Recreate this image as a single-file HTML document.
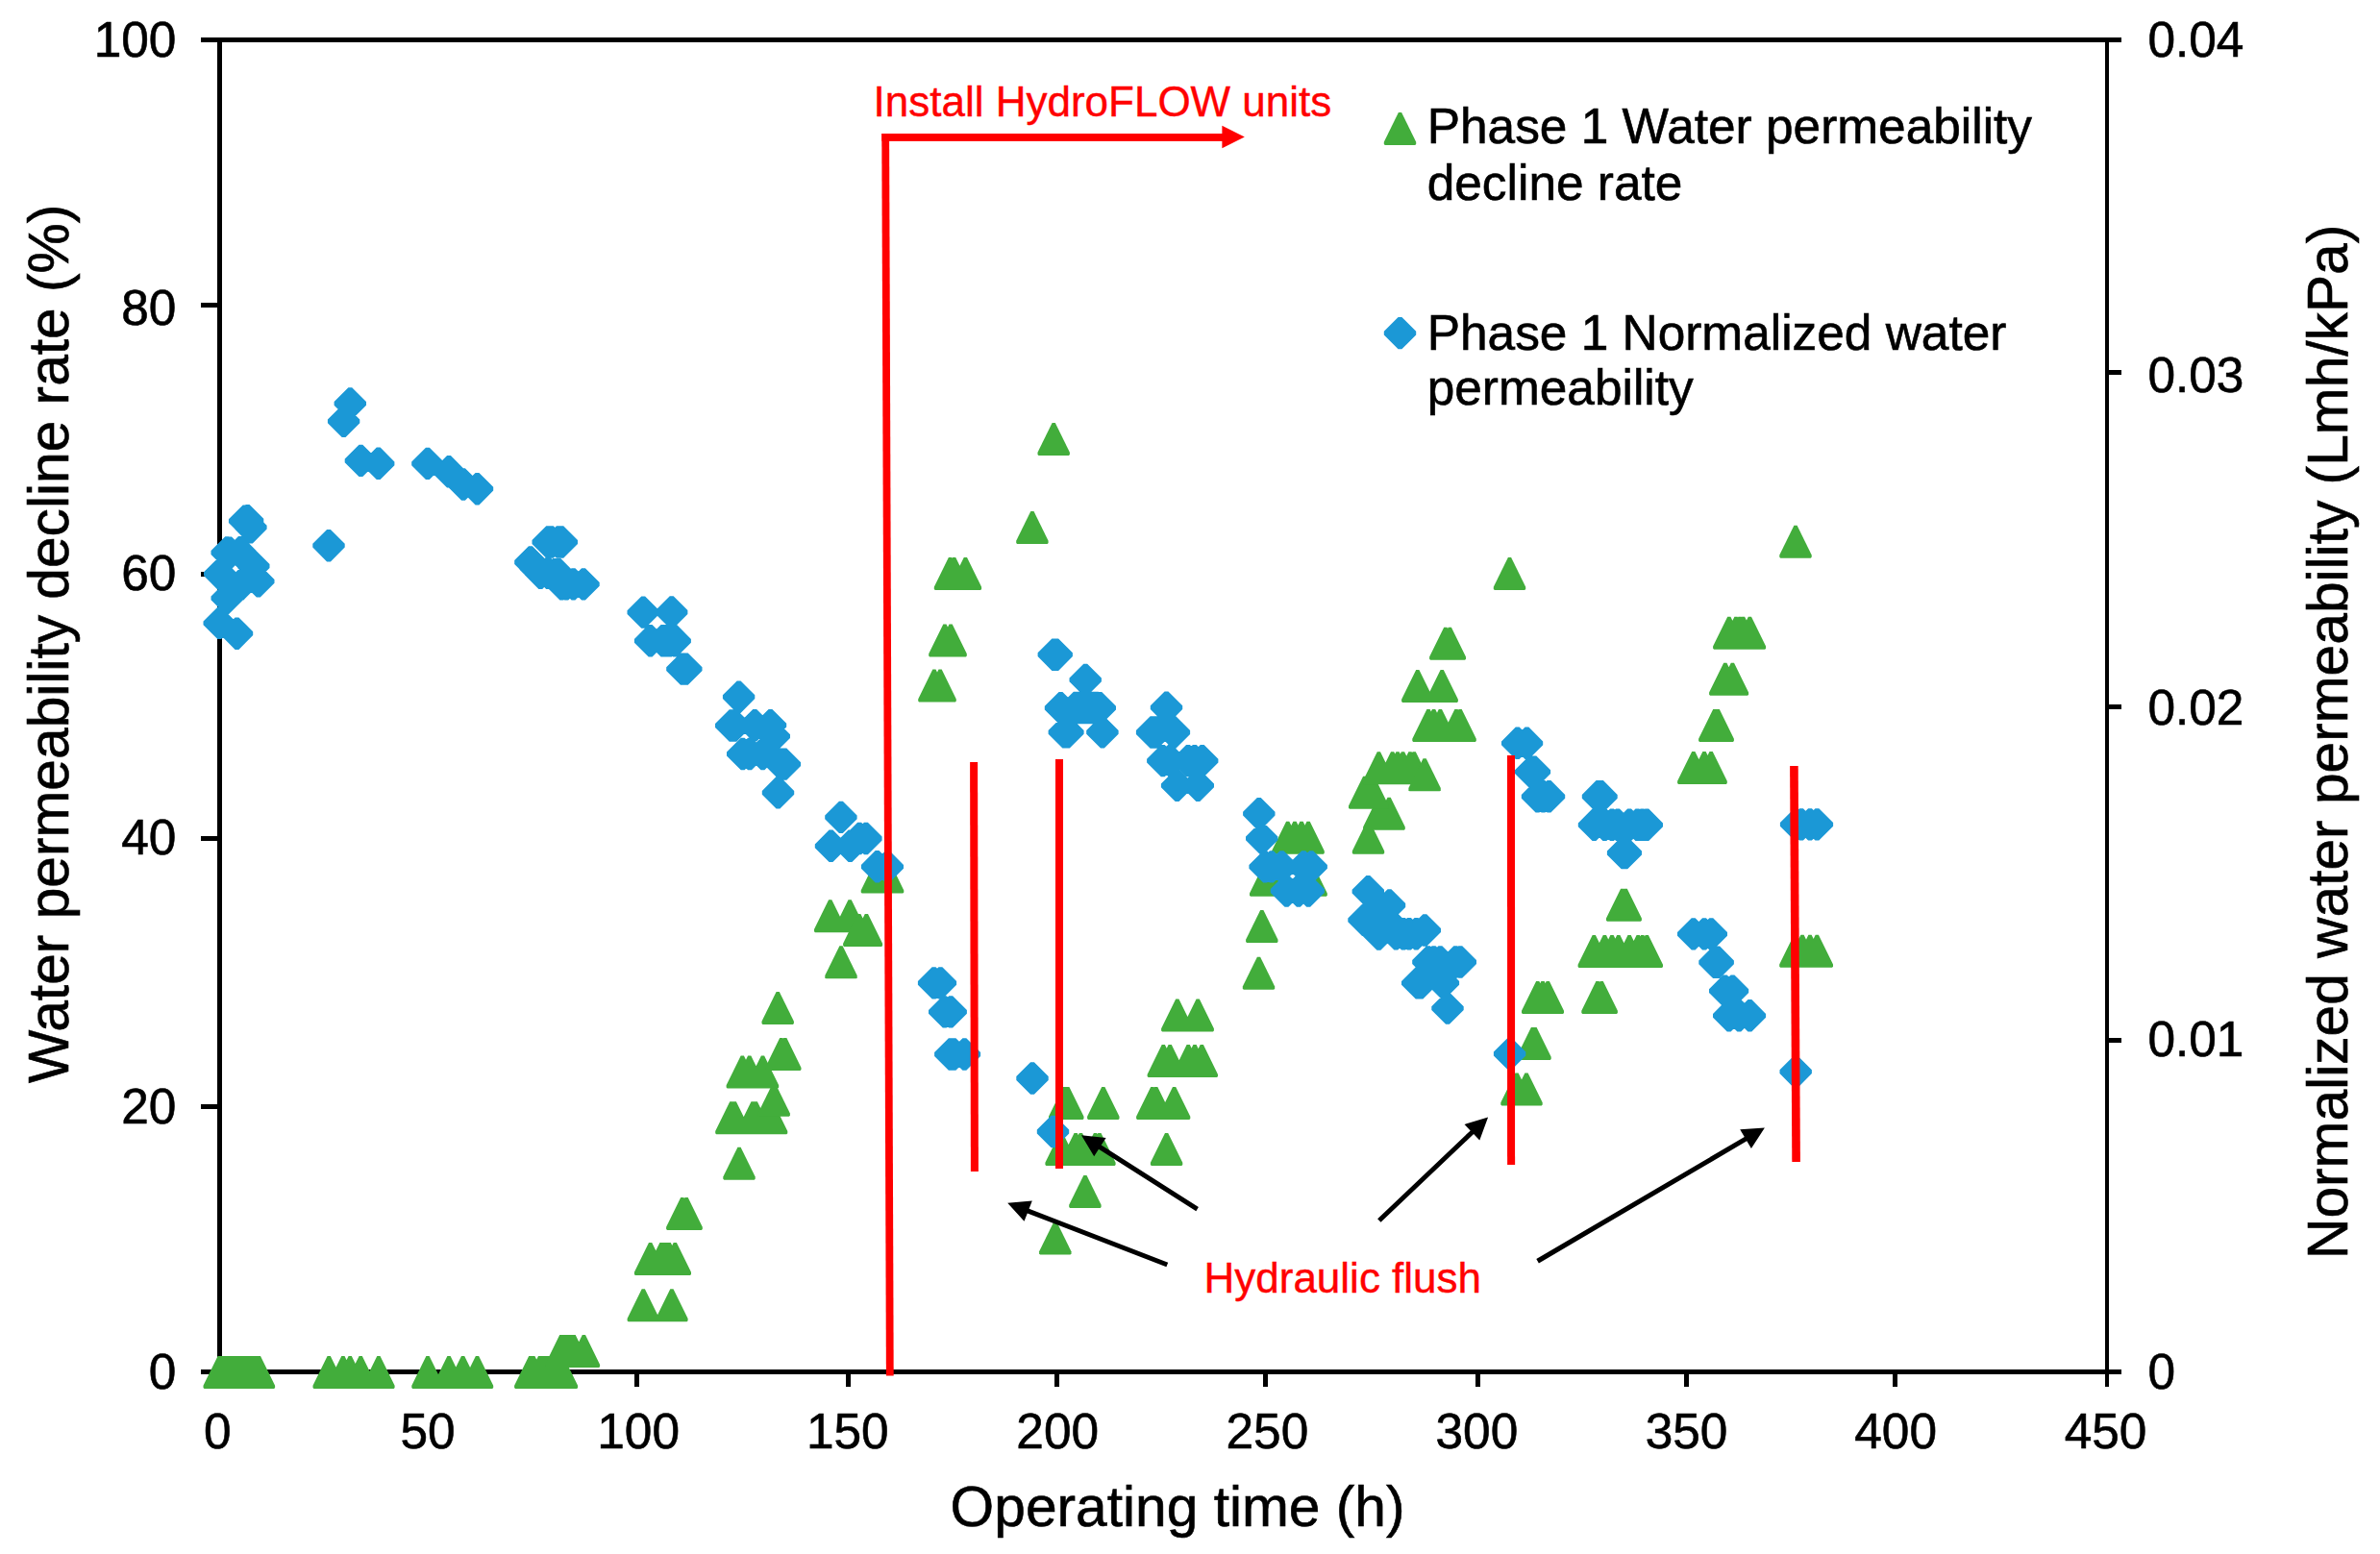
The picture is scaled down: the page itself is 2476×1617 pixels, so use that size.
<!DOCTYPE html>
<html><head><meta charset="utf-8"><title>Water permeability chart</title>
<style>html,body{margin:0;padding:0;background:#fff}svg{display:block}text{font-family:"Liberation Sans",Arial,sans-serif;}</style>
</head><body>
<svg width="2476" height="1617" viewBox="0 0 2476 1617">
<rect width="2476" height="1617" fill="#fff"/>
<g fill="#000" shape-rendering="crispEdges">
<rect x="209" y="38.9" width="1998" height="5.2"/>
<rect x="209" y="1424.8" width="1998" height="5.5"/>
<rect x="226.0" y="41.5" width="5" height="1386.0"/>
<rect x="2189.9" y="41.5" width="4.4" height="1401.5"/>
<rect x="209" y="315.1" width="20" height="5"/>
<rect x="209" y="594.5" width="20" height="5"/>
<rect x="209" y="869.5" width="20" height="5"/>
<rect x="209" y="1148.5" width="20" height="5"/>
<rect x="2192.1" y="385.1" width="15" height="5"/>
<rect x="2192.1" y="733.4" width="15" height="5"/>
<rect x="2192.1" y="1079.5" width="15" height="5"/>
<rect x="442.5" y="1427.5" width="5" height="15.5"/>
<rect x="659.5" y="1427.5" width="5" height="15.5"/>
<rect x="879.8" y="1427.5" width="5" height="15.5"/>
<rect x="1096.9" y="1427.5" width="5" height="15.5"/>
<rect x="1313.7" y="1427.5" width="5" height="15.5"/>
<rect x="1534.8" y="1427.5" width="5" height="15.5"/>
<rect x="1751.8" y="1427.5" width="5" height="15.5"/>
<rect x="1968.7" y="1427.5" width="5" height="15.5"/>
</g>
<g fill="#42ad3b">
<path d="M226.6 1411.0 L229.8 1411.0 L244.9 1441.8 L244.9 1444.0 L243.9 1445.0 L212.5 1445.0 L211.5 1444.0 L211.5 1441.8ZM229.6 1411.0 L232.8 1411.0 L247.9 1441.8 L247.9 1444.0 L246.9 1445.0 L215.5 1445.0 L214.5 1444.0 L214.5 1441.8ZM232.6 1411.0 L235.8 1411.0 L250.9 1441.8 L250.9 1444.0 L249.9 1445.0 L218.5 1445.0 L217.5 1444.0 L217.5 1441.8ZM235.6 1411.0 L238.8 1411.0 L253.9 1441.8 L253.9 1444.0 L252.9 1445.0 L221.5 1445.0 L220.5 1444.0 L220.5 1441.8ZM238.6 1411.0 L241.8 1411.0 L256.9 1441.8 L256.9 1444.0 L255.9 1445.0 L224.5 1445.0 L223.5 1444.0 L223.5 1441.8ZM241.6 1411.0 L244.8 1411.0 L259.9 1441.8 L259.9 1444.0 L258.9 1445.0 L227.5 1445.0 L226.5 1444.0 L226.5 1441.8ZM244.6 1411.0 L247.8 1411.0 L262.9 1441.8 L262.9 1444.0 L261.9 1445.0 L230.5 1445.0 L229.5 1444.0 L229.5 1441.8ZM247.6 1411.0 L250.8 1411.0 L265.9 1441.8 L265.9 1444.0 L264.9 1445.0 L233.5 1445.0 L232.5 1444.0 L232.5 1441.8ZM250.6 1411.0 L253.8 1411.0 L268.9 1441.8 L268.9 1444.0 L267.9 1445.0 L236.5 1445.0 L235.5 1444.0 L235.5 1441.8ZM253.6 1411.0 L256.8 1411.0 L271.9 1441.8 L271.9 1444.0 L270.9 1445.0 L239.5 1445.0 L238.5 1444.0 L238.5 1441.8ZM256.6 1411.0 L259.8 1411.0 L274.9 1441.8 L274.9 1444.0 L273.9 1445.0 L242.5 1445.0 L241.5 1444.0 L241.5 1441.8ZM259.6 1411.0 L262.8 1411.0 L277.9 1441.8 L277.9 1444.0 L276.9 1445.0 L245.5 1445.0 L244.5 1444.0 L244.5 1441.8ZM262.6 1411.0 L265.8 1411.0 L280.9 1441.8 L280.9 1444.0 L279.9 1445.0 L248.5 1445.0 L247.5 1444.0 L247.5 1441.8ZM265.6 1411.0 L268.8 1411.0 L283.9 1441.8 L283.9 1444.0 L282.9 1445.0 L251.5 1445.0 L250.5 1444.0 L250.5 1441.8ZM267.8 1411.0 L271.0 1411.0 L286.1 1441.8 L286.1 1444.0 L285.1 1445.0 L253.7 1445.0 L252.7 1444.0 L252.7 1441.8ZM340.6 1411.0 L343.8 1411.0 L358.9 1441.8 L358.9 1444.0 L357.9 1445.0 L326.5 1445.0 L325.5 1444.0 L325.5 1441.8ZM355.3 1411.0 L358.5 1411.0 L373.6 1441.8 L373.6 1444.0 L372.6 1445.0 L341.2 1445.0 L340.2 1444.0 L340.2 1441.8ZM362.6 1411.0 L365.8 1411.0 L380.9 1441.8 L380.9 1444.0 L379.9 1445.0 L348.5 1445.0 L347.5 1444.0 L347.5 1441.8ZM373.6 1411.0 L376.8 1411.0 L391.9 1441.8 L391.9 1444.0 L390.9 1445.0 L359.5 1445.0 L358.5 1444.0 L358.5 1441.8ZM392.3 1411.0 L395.5 1411.0 L410.6 1441.8 L410.6 1444.0 L409.6 1445.0 L378.2 1445.0 L377.2 1444.0 L377.2 1441.8ZM443.4 1411.0 L446.6 1411.0 L461.7 1441.8 L461.7 1444.0 L460.7 1445.0 L429.3 1445.0 L428.3 1444.0 L428.3 1441.8ZM465.4 1411.0 L468.6 1411.0 L483.7 1441.8 L483.7 1444.0 L482.7 1445.0 L451.3 1445.0 L450.3 1444.0 L450.3 1441.8ZM480.0 1411.0 L483.2 1411.0 L498.3 1441.8 L498.3 1444.0 L497.3 1445.0 L465.9 1445.0 L464.9 1444.0 L464.9 1441.8ZM494.9 1411.0 L498.1 1411.0 L513.2 1441.8 L513.2 1444.0 L512.2 1445.0 L480.8 1445.0 L479.8 1444.0 L479.8 1441.8ZM550.2 1411.0 L553.4 1411.0 L568.5 1441.8 L568.5 1444.0 L567.5 1445.0 L536.1 1445.0 L535.1 1444.0 L535.1 1441.8ZM553.2 1411.0 L556.4 1411.0 L571.5 1441.8 L571.5 1444.0 L570.5 1445.0 L539.1 1445.0 L538.1 1444.0 L538.1 1441.8ZM560.0 1411.0 L563.2 1411.0 L578.3 1441.8 L578.3 1444.0 L577.3 1445.0 L545.9 1445.0 L544.9 1444.0 L544.9 1441.8ZM563.0 1411.0 L566.2 1411.0 L581.3 1441.8 L581.3 1444.0 L580.3 1445.0 L548.9 1445.0 L547.9 1444.0 L547.9 1441.8ZM566.0 1411.0 L569.2 1411.0 L584.3 1441.8 L584.3 1444.0 L583.3 1445.0 L551.9 1445.0 L550.9 1444.0 L550.9 1441.8ZM569.0 1411.0 L572.2 1411.0 L587.3 1441.8 L587.3 1444.0 L586.3 1445.0 L554.9 1445.0 L553.9 1444.0 L553.9 1441.8ZM572.0 1411.0 L575.2 1411.0 L590.3 1441.8 L590.3 1444.0 L589.3 1445.0 L557.9 1445.0 L556.9 1444.0 L556.9 1441.8ZM575.6 1411.0 L578.8 1411.0 L593.9 1441.8 L593.9 1444.0 L592.9 1445.0 L561.5 1445.0 L560.5 1444.0 L560.5 1441.8ZM579.8 1411.0 L583.0 1411.0 L598.1 1441.8 L598.1 1444.0 L597.1 1445.0 L565.7 1445.0 L564.7 1444.0 L564.7 1441.8ZM582.8 1411.0 L586.0 1411.0 L601.1 1441.8 L601.1 1444.0 L600.1 1445.0 L568.7 1445.0 L567.7 1444.0 L567.7 1441.8Z"/>
<path d="M582.2 1389.1 L585.4 1389.1 L600.5 1419.9 L600.5 1422.1 L599.5 1423.1 L568.1 1423.1 L567.1 1422.1 L567.1 1419.9ZM585.2 1389.1 L588.4 1389.1 L603.5 1419.9 L603.5 1422.1 L602.5 1423.1 L571.1 1423.1 L570.1 1422.1 L570.1 1419.9ZM588.2 1389.1 L591.4 1389.1 L606.5 1419.9 L606.5 1422.1 L605.5 1423.1 L574.1 1423.1 L573.1 1422.1 L573.1 1419.9ZM591.2 1389.1 L594.4 1389.1 L609.5 1419.9 L609.5 1422.1 L608.5 1423.1 L577.1 1423.1 L576.1 1422.1 L576.1 1419.9ZM594.0 1389.1 L597.2 1389.1 L612.3 1419.9 L612.3 1422.1 L611.3 1423.1 L579.9 1423.1 L578.9 1422.1 L578.9 1419.9ZM595.5 1389.1 L598.7 1389.1 L613.8 1419.9 L613.8 1422.1 L612.8 1423.1 L581.4 1423.1 L580.4 1422.1 L580.4 1419.9ZM605.8 1389.1 L609.0 1389.1 L624.1 1419.9 L624.1 1422.1 L623.1 1423.1 L591.7 1423.1 L590.7 1422.1 L590.7 1419.9Z"/>
<path d="M667.7 1341.3 L670.9 1341.3 L686.0 1372.1 L686.0 1374.3 L685.0 1375.3 L653.6 1375.3 L652.6 1374.3 L652.6 1372.1ZM697.3 1341.3 L700.5 1341.3 L715.6 1372.1 L715.6 1374.3 L714.6 1375.3 L683.2 1375.3 L682.2 1374.3 L682.2 1372.1Z"/>
<path d="M675.0 1293.0 L678.2 1293.0 L693.3 1323.8 L693.3 1326.0 L692.3 1327.0 L660.9 1327.0 L659.9 1326.0 L659.9 1323.8ZM686.4 1293.0 L689.6 1293.0 L704.7 1323.8 L704.7 1326.0 L703.7 1327.0 L672.3 1327.0 L671.3 1326.0 L671.3 1323.8ZM689.4 1293.0 L692.6 1293.0 L707.7 1323.8 L707.7 1326.0 L706.7 1327.0 L675.3 1327.0 L674.3 1326.0 L674.3 1323.8ZM692.4 1293.0 L695.6 1293.0 L710.7 1323.8 L710.7 1326.0 L709.7 1327.0 L678.3 1327.0 L677.3 1326.0 L677.3 1323.8ZM694.6 1293.0 L697.8 1293.0 L712.9 1323.8 L712.9 1326.0 L711.9 1327.0 L680.5 1327.0 L679.5 1326.0 L679.5 1323.8ZM700.7 1293.0 L703.9 1293.0 L719.0 1323.8 L719.0 1326.0 L718.0 1327.0 L686.6 1327.0 L685.6 1326.0 L685.6 1323.8Z"/>
<path d="M708.2 1246.0 L711.4 1246.0 L726.5 1276.8 L726.5 1279.0 L725.5 1280.0 L694.1 1280.0 L693.1 1279.0 L693.1 1276.8ZM712.5 1246.0 L715.7 1246.0 L730.8 1276.8 L730.8 1279.0 L729.8 1280.0 L698.4 1280.0 L697.4 1279.0 L697.4 1276.8Z"/>
<path d="M767.4 1193.8 L770.6 1193.8 L785.7 1224.6 L785.7 1226.8 L784.7 1227.8 L753.3 1227.8 L752.3 1226.8 L752.3 1224.6Z"/>
<path d="M759.3 1146.2 L762.5 1146.2 L777.6 1177.0 L777.6 1179.2 L776.6 1180.2 L745.2 1180.2 L744.2 1179.2 L744.2 1177.0ZM762.7 1146.2 L765.9 1146.2 L781.0 1177.0 L781.0 1179.2 L780.0 1180.2 L748.6 1180.2 L747.6 1179.2 L747.6 1177.0ZM781.5 1146.2 L784.7 1146.2 L799.8 1177.0 L799.8 1179.2 L798.8 1180.2 L767.4 1180.2 L766.4 1179.2 L766.4 1177.0ZM784.7 1146.2 L787.9 1146.2 L803.0 1177.0 L803.0 1179.2 L802.0 1180.2 L770.6 1180.2 L769.6 1179.2 L769.6 1177.0ZM801.0 1146.2 L804.2 1146.2 L819.3 1177.0 L819.3 1179.2 L818.3 1180.2 L786.9 1180.2 L785.9 1179.2 L785.9 1177.0Z"/>
<path d="M803.6 1127.7 L806.8 1127.7 L821.9 1158.5 L821.9 1160.7 L820.9 1161.7 L789.5 1161.7 L788.5 1160.7 L788.5 1158.5Z"/>
<path d="M770.7 1098.5 L773.9 1098.5 L789.0 1129.3 L789.0 1131.5 L788.0 1132.5 L756.6 1132.5 L755.6 1131.5 L755.6 1129.3ZM778.1 1098.5 L781.3 1098.5 L796.4 1129.3 L796.4 1131.5 L795.4 1132.5 L764.0 1132.5 L763.0 1131.5 L763.0 1129.3ZM791.9 1098.5 L795.1 1098.5 L810.2 1129.3 L810.2 1131.5 L809.2 1132.5 L777.8 1132.5 L776.8 1131.5 L776.8 1129.3Z"/>
<path d="M811.2 1080.1 L814.4 1080.1 L829.5 1110.9 L829.5 1113.1 L828.5 1114.1 L797.1 1114.1 L796.1 1113.1 L796.1 1110.9ZM815.2 1080.1 L818.4 1080.1 L833.5 1110.9 L833.5 1113.1 L832.5 1114.1 L801.1 1114.1 L800.1 1113.1 L800.1 1110.9Z"/>
<path d="M807.6 1032.0 L810.8 1032.0 L825.9 1062.8 L825.9 1065.0 L824.9 1066.0 L793.5 1066.0 L792.5 1065.0 L792.5 1062.8Z"/>
<path d="M873.4 984.3 L876.6 984.3 L891.7 1015.1 L891.7 1017.3 L890.7 1018.3 L859.3 1018.3 L858.3 1017.3 L858.3 1015.1Z"/>
<path d="M862.1 936.2 L865.3 936.2 L880.4 967.0 L880.4 969.2 L879.4 970.2 L848.0 970.2 L847.0 969.2 L847.0 967.0ZM882.5 936.2 L885.7 936.2 L900.8 967.0 L900.8 969.2 L899.8 970.2 L868.4 970.2 L867.4 969.2 L867.4 967.0Z"/>
<path d="M892.2 951.0 L895.4 951.0 L910.5 981.8 L910.5 984.0 L909.5 985.0 L878.1 985.0 L877.1 984.0 L877.1 981.8ZM899.8 951.0 L903.0 951.0 L918.1 981.8 L918.1 984.0 L917.1 985.0 L885.7 985.0 L884.7 984.0 L884.7 981.8Z"/>
<path d="M910.8 895.6 L914.0 895.6 L929.1 926.4 L929.1 928.6 L928.1 929.6 L896.7 929.6 L895.7 928.6 L895.7 926.4ZM922.0 895.6 L925.2 895.6 L940.3 926.4 L940.3 928.6 L939.3 929.6 L907.9 929.6 L906.9 928.6 L906.9 926.4Z"/>
<path d="M970.3 696.6 L973.5 696.6 L988.6 727.4 L988.6 729.6 L987.6 730.6 L956.2 730.6 L955.2 729.6 L955.2 727.4ZM976.5 696.6 L979.7 696.6 L994.8 727.4 L994.8 729.6 L993.8 730.6 L962.4 730.6 L961.4 729.6 L961.4 727.4Z"/>
<path d="M981.3 649.5 L984.5 649.5 L999.6 680.3 L999.6 682.5 L998.6 683.5 L967.2 683.5 L966.2 682.5 L966.2 680.3ZM987.5 649.5 L990.7 649.5 L1005.8 680.3 L1005.8 682.5 L1004.8 683.5 L973.4 683.5 L972.4 682.5 L972.4 680.3Z"/>
<path d="M986.9 579.9 L990.1 579.9 L1005.2 610.7 L1005.2 612.9 L1004.2 613.9 L972.8 613.9 L971.8 612.9 L971.8 610.7ZM991.0 579.9 L994.2 579.9 L1009.3 610.7 L1009.3 612.9 L1008.3 613.9 L976.9 613.9 L975.9 612.9 L975.9 610.7ZM1002.8 579.9 L1006.0 579.9 L1021.1 610.7 L1021.1 612.9 L1020.1 613.9 L988.7 613.9 L987.7 612.9 L987.7 610.7Z"/>
<path d="M1072.3 532.0 L1075.5 532.0 L1090.6 562.8 L1090.6 565.0 L1089.6 566.0 L1058.2 566.0 L1057.2 565.0 L1057.2 562.8Z"/>
<path d="M1094.6 440.0 L1097.8 440.0 L1112.9 470.8 L1112.9 473.0 L1111.9 474.0 L1080.5 474.0 L1079.5 473.0 L1079.5 470.8Z"/>
<path d="M1096.2 1271.5 L1099.4 1271.5 L1114.5 1302.3 L1114.5 1304.5 L1113.5 1305.5 L1082.1 1305.5 L1081.1 1304.5 L1081.1 1302.3Z"/>
<path d="M1127.3 1223.0 L1130.5 1223.0 L1145.6 1253.8 L1145.6 1256.0 L1144.6 1257.0 L1113.2 1257.0 L1112.2 1256.0 L1112.2 1253.8Z"/>
<path d="M1102.5 1178.9 L1105.7 1178.9 L1120.8 1209.7 L1120.8 1211.9 L1119.8 1212.9 L1088.4 1212.9 L1087.4 1211.9 L1087.4 1209.7ZM1117.5 1178.9 L1120.7 1178.9 L1135.8 1209.7 L1135.8 1211.9 L1134.8 1212.9 L1103.4 1212.9 L1102.4 1211.9 L1102.4 1209.7ZM1122.8 1178.9 L1126.0 1178.9 L1141.1 1209.7 L1141.1 1211.9 L1140.1 1212.9 L1108.7 1212.9 L1107.7 1211.9 L1107.7 1209.7ZM1137.9 1178.9 L1141.1 1178.9 L1156.2 1209.7 L1156.2 1211.9 L1155.2 1212.9 L1123.8 1212.9 L1122.8 1211.9 L1122.8 1209.7ZM1142.3 1178.9 L1145.5 1178.9 L1160.6 1209.7 L1160.6 1211.9 L1159.6 1212.9 L1128.2 1212.9 L1127.2 1211.9 L1127.2 1209.7ZM1212.0 1178.9 L1215.2 1178.9 L1230.3 1209.7 L1230.3 1211.9 L1229.3 1212.9 L1197.9 1212.9 L1196.9 1211.9 L1196.9 1209.7Z"/>
<path d="M1106.1 1131.0 L1109.3 1131.0 L1124.4 1161.8 L1124.4 1164.0 L1123.4 1165.0 L1092.0 1165.0 L1091.0 1164.0 L1091.0 1161.8ZM1109.2 1131.0 L1112.4 1131.0 L1127.5 1161.8 L1127.5 1164.0 L1126.5 1165.0 L1095.1 1165.0 L1094.1 1164.0 L1094.1 1161.8ZM1146.2 1131.0 L1149.4 1131.0 L1164.5 1161.8 L1164.5 1164.0 L1163.5 1165.0 L1132.1 1165.0 L1131.1 1164.0 L1131.1 1161.8ZM1197.2 1131.0 L1200.4 1131.0 L1215.5 1161.8 L1215.5 1164.0 L1214.5 1165.0 L1183.1 1165.0 L1182.1 1164.0 L1182.1 1161.8ZM1201.1 1131.0 L1204.3 1131.0 L1219.4 1161.8 L1219.4 1164.0 L1218.4 1165.0 L1187.0 1165.0 L1186.0 1164.0 L1186.0 1161.8ZM1220.0 1131.0 L1223.2 1131.0 L1238.3 1161.8 L1238.3 1164.0 L1237.3 1165.0 L1205.9 1165.0 L1204.9 1164.0 L1204.9 1161.8Z"/>
<path d="M1208.7 1087.1 L1211.9 1087.1 L1227.0 1117.9 L1227.0 1120.1 L1226.0 1121.1 L1194.6 1121.1 L1193.6 1120.1 L1193.6 1117.9ZM1215.6 1087.1 L1218.8 1087.1 L1233.9 1117.9 L1233.9 1120.1 L1232.9 1121.1 L1201.5 1121.1 L1200.5 1120.1 L1200.5 1117.9ZM1234.6 1087.1 L1237.8 1087.1 L1252.9 1117.9 L1252.9 1120.1 L1251.9 1121.1 L1220.5 1121.1 L1219.5 1120.1 L1219.5 1117.9ZM1241.4 1087.1 L1244.6 1087.1 L1259.7 1117.9 L1259.7 1120.1 L1258.7 1121.1 L1227.3 1121.1 L1226.3 1120.1 L1226.3 1117.9ZM1248.7 1087.1 L1251.9 1087.1 L1267.0 1117.9 L1267.0 1120.1 L1266.0 1121.1 L1234.6 1121.1 L1233.6 1120.1 L1233.6 1117.9Z"/>
<path d="M1223.2 1039.4 L1226.4 1039.4 L1241.5 1070.2 L1241.5 1072.4 L1240.5 1073.4 L1209.1 1073.4 L1208.1 1072.4 L1208.1 1070.2ZM1244.6 1039.4 L1247.8 1039.4 L1262.9 1070.2 L1262.9 1072.4 L1261.9 1073.4 L1230.5 1073.4 L1229.5 1072.4 L1229.5 1070.2Z"/>
<path d="M1307.9 995.7 L1311.1 995.7 L1326.2 1026.5 L1326.2 1028.7 L1325.2 1029.7 L1293.8 1029.7 L1292.8 1028.7 L1292.8 1026.5Z"/>
<path d="M1311.2 947.0 L1314.4 947.0 L1329.5 977.8 L1329.5 980.0 L1328.5 981.0 L1297.1 981.0 L1296.1 980.0 L1296.1 977.8Z"/>
<path d="M1315.1 898.8 L1318.3 898.8 L1333.4 929.6 L1333.4 931.8 L1332.4 932.8 L1301.0 932.8 L1300.0 931.8 L1300.0 929.6ZM1321.4 898.8 L1324.6 898.8 L1339.7 929.6 L1339.7 931.8 L1338.7 932.8 L1307.3 932.8 L1306.3 931.8 L1306.3 929.6ZM1331.9 898.8 L1335.1 898.8 L1350.2 929.6 L1350.2 931.8 L1349.2 932.8 L1317.8 932.8 L1316.8 931.8 L1316.8 929.6ZM1354.4 898.8 L1357.6 898.8 L1372.7 929.6 L1372.7 931.8 L1371.7 932.8 L1340.3 932.8 L1339.3 931.8 L1339.3 929.6ZM1362.5 898.8 L1365.7 898.8 L1380.8 929.6 L1380.8 931.8 L1379.8 932.8 L1348.4 932.8 L1347.4 931.8 L1347.4 929.6Z"/>
<path d="M1338.1 854.8 L1341.3 854.8 L1356.4 885.6 L1356.4 887.8 L1355.4 888.8 L1324.0 888.8 L1323.0 887.8 L1323.0 885.6ZM1345.4 854.8 L1348.6 854.8 L1363.7 885.6 L1363.7 887.8 L1362.7 888.8 L1331.3 888.8 L1330.3 887.8 L1330.3 885.6ZM1352.4 854.8 L1355.6 854.8 L1370.7 885.6 L1370.7 887.8 L1369.7 888.8 L1338.3 888.8 L1337.3 887.8 L1337.3 885.6ZM1359.5 854.8 L1362.7 854.8 L1377.8 885.6 L1377.8 887.8 L1376.8 888.8 L1345.4 888.8 L1344.4 887.8 L1344.4 885.6ZM1421.9 854.8 L1425.1 854.8 L1440.2 885.6 L1440.2 887.8 L1439.2 888.8 L1407.8 888.8 L1406.8 887.8 L1406.8 885.6Z"/>
<path d="M1433.2 829.7 L1436.4 829.7 L1451.5 860.5 L1451.5 862.7 L1450.5 863.7 L1419.1 863.7 L1418.1 862.7 L1418.1 860.5ZM1443.5 829.7 L1446.7 829.7 L1461.8 860.5 L1461.8 862.7 L1460.8 863.7 L1429.4 863.7 L1428.4 862.7 L1428.4 860.5Z"/>
<path d="M1418.1 807.8 L1421.3 807.8 L1436.4 838.6 L1436.4 840.8 L1435.4 841.8 L1404.0 841.8 L1403.0 840.8 L1403.0 838.6ZM1426.5 807.8 L1429.7 807.8 L1444.8 838.6 L1444.8 840.8 L1443.8 841.8 L1412.4 841.8 L1411.4 840.8 L1411.4 838.6Z"/>
<path d="M1432.8 782.2 L1436.0 782.2 L1451.1 813.0 L1451.1 815.2 L1450.1 816.2 L1418.7 816.2 L1417.7 815.2 L1417.7 813.0ZM1447.0 782.2 L1450.2 782.2 L1465.3 813.0 L1465.3 815.2 L1464.3 816.2 L1432.9 816.2 L1431.9 815.2 L1431.9 813.0ZM1452.4 782.2 L1455.6 782.2 L1470.7 813.0 L1470.7 815.2 L1469.7 816.2 L1438.3 816.2 L1437.3 815.2 L1437.3 813.0ZM1457.9 782.2 L1461.1 782.2 L1476.2 813.0 L1476.2 815.2 L1475.2 816.2 L1443.8 816.2 L1442.8 815.2 L1442.8 813.0ZM1465.4 782.2 L1468.6 782.2 L1483.7 813.0 L1483.7 815.2 L1482.7 816.2 L1451.3 816.2 L1450.3 815.2 L1450.3 813.0ZM1469.6 782.2 L1472.8 782.2 L1487.9 813.0 L1487.9 815.2 L1486.9 816.2 L1455.5 816.2 L1454.5 815.2 L1454.5 813.0Z"/>
<path d="M1480.5 789.2 L1483.7 789.2 L1498.8 820.0 L1498.8 822.2 L1497.8 823.2 L1466.4 823.2 L1465.4 822.2 L1465.4 820.0Z"/>
<path d="M1484.4 737.9 L1487.6 737.9 L1502.7 768.7 L1502.7 770.9 L1501.7 771.9 L1470.3 771.9 L1469.3 770.9 L1469.3 768.7ZM1490.0 737.9 L1493.2 737.9 L1508.3 768.7 L1508.3 770.9 L1507.3 771.9 L1475.9 771.9 L1474.9 770.9 L1474.9 768.7ZM1496.8 737.9 L1500.0 737.9 L1515.1 768.7 L1515.1 770.9 L1514.1 771.9 L1482.7 771.9 L1481.7 770.9 L1481.7 768.7ZM1513.4 737.9 L1516.6 737.9 L1531.7 768.7 L1531.7 770.9 L1530.7 771.9 L1499.3 771.9 L1498.3 770.9 L1498.3 768.7ZM1517.5 737.9 L1520.7 737.9 L1535.8 768.7 L1535.8 770.9 L1534.8 771.9 L1503.4 771.9 L1502.4 770.9 L1502.4 768.7Z"/>
<path d="M1473.2 697.0 L1476.4 697.0 L1491.5 727.8 L1491.5 730.0 L1490.5 731.0 L1459.1 731.0 L1458.1 730.0 L1458.1 727.8ZM1498.6 697.0 L1501.8 697.0 L1516.9 727.8 L1516.9 730.0 L1515.9 731.0 L1484.5 731.0 L1483.5 730.0 L1483.5 727.8Z"/>
<path d="M1502.2 652.8 L1505.4 652.8 L1520.5 683.6 L1520.5 685.8 L1519.5 686.8 L1488.1 686.8 L1487.1 685.8 L1487.1 683.6ZM1506.7 652.8 L1509.9 652.8 L1525.0 683.6 L1525.0 685.8 L1524.0 686.8 L1492.6 686.8 L1491.6 685.8 L1491.6 683.6Z"/>
<path d="M1568.9 579.9 L1572.1 579.9 L1587.2 610.7 L1587.2 612.9 L1586.2 613.9 L1554.8 613.9 L1553.8 612.9 L1553.8 610.7Z"/>
<path d="M1576.4 1116.5 L1579.6 1116.5 L1594.7 1147.3 L1594.7 1149.5 L1593.7 1150.5 L1562.3 1150.5 L1561.3 1149.5 L1561.3 1147.3ZM1586.4 1116.5 L1589.6 1116.5 L1604.7 1147.3 L1604.7 1149.5 L1603.7 1150.5 L1572.3 1150.5 L1571.3 1149.5 L1571.3 1147.3Z"/>
<path d="M1592.9 1069.0 L1596.1 1069.0 L1611.2 1099.8 L1611.2 1102.0 L1610.2 1103.0 L1578.8 1103.0 L1577.8 1102.0 L1577.8 1099.8ZM1595.4 1069.0 L1598.6 1069.0 L1613.7 1099.8 L1613.7 1102.0 L1612.7 1103.0 L1581.3 1103.0 L1580.3 1102.0 L1580.3 1099.8Z"/>
<path d="M1598.1 1021.0 L1601.3 1021.0 L1616.4 1051.8 L1616.4 1054.0 L1615.4 1055.0 L1584.0 1055.0 L1583.0 1054.0 L1583.0 1051.8ZM1603.4 1021.0 L1606.6 1021.0 L1621.7 1051.8 L1621.7 1054.0 L1620.7 1055.0 L1589.3 1055.0 L1588.3 1054.0 L1588.3 1051.8ZM1608.7 1021.0 L1611.9 1021.0 L1627.0 1051.8 L1627.0 1054.0 L1626.0 1055.0 L1594.6 1055.0 L1593.6 1054.0 L1593.6 1051.8ZM1660.4 1021.0 L1663.6 1021.0 L1678.7 1051.8 L1678.7 1054.0 L1677.7 1055.0 L1646.3 1055.0 L1645.3 1054.0 L1645.3 1051.8ZM1664.6 1021.0 L1667.8 1021.0 L1682.9 1051.8 L1682.9 1054.0 L1681.9 1055.0 L1650.5 1055.0 L1649.5 1054.0 L1649.5 1051.8Z"/>
<path d="M1656.7 973.0 L1659.9 973.0 L1675.0 1003.8 L1675.0 1006.0 L1674.0 1007.0 L1642.6 1007.0 L1641.6 1006.0 L1641.6 1003.8ZM1667.8 973.0 L1671.0 973.0 L1686.1 1003.8 L1686.1 1006.0 L1685.1 1007.0 L1653.7 1007.0 L1652.7 1006.0 L1652.7 1003.8ZM1675.4 973.0 L1678.6 973.0 L1693.7 1003.8 L1693.7 1006.0 L1692.7 1007.0 L1661.3 1007.0 L1660.3 1006.0 L1660.3 1003.8ZM1682.2 973.0 L1685.4 973.0 L1700.5 1003.8 L1700.5 1006.0 L1699.5 1007.0 L1668.1 1007.0 L1667.1 1006.0 L1667.1 1003.8ZM1693.5 973.0 L1696.7 973.0 L1711.8 1003.8 L1711.8 1006.0 L1710.8 1007.0 L1679.4 1007.0 L1678.4 1006.0 L1678.4 1003.8ZM1702.6 973.0 L1705.8 973.0 L1720.9 1003.8 L1720.9 1006.0 L1719.9 1007.0 L1688.5 1007.0 L1687.5 1006.0 L1687.5 1003.8ZM1707.1 973.0 L1710.3 973.0 L1725.4 1003.8 L1725.4 1006.0 L1724.4 1007.0 L1693.0 1007.0 L1692.0 1006.0 L1692.0 1003.8ZM1711.7 973.0 L1714.9 973.0 L1730.0 1003.8 L1730.0 1006.0 L1729.0 1007.0 L1697.6 1007.0 L1696.6 1006.0 L1696.6 1003.8Z"/>
<path d="M1686.1 924.7 L1689.3 924.7 L1704.4 955.5 L1704.4 957.7 L1703.4 958.7 L1672.0 958.7 L1671.0 957.7 L1671.0 955.5ZM1689.6 924.7 L1692.8 924.7 L1707.9 955.5 L1707.9 957.7 L1706.9 958.7 L1675.5 958.7 L1674.5 957.7 L1674.5 955.5Z"/>
<path d="M1760.2 782.0 L1763.4 782.0 L1778.5 812.8 L1778.5 815.0 L1777.5 816.0 L1746.1 816.0 L1745.1 815.0 L1745.1 812.8ZM1771.4 782.0 L1774.6 782.0 L1789.7 812.8 L1789.7 815.0 L1788.7 816.0 L1757.3 816.0 L1756.3 815.0 L1756.3 812.8ZM1778.5 782.0 L1781.7 782.0 L1796.8 812.8 L1796.8 815.0 L1795.8 816.0 L1764.4 816.0 L1763.4 815.0 L1763.4 812.8Z"/>
<path d="M1782.2 738.0 L1785.4 738.0 L1800.5 768.8 L1800.5 771.0 L1799.5 772.0 L1768.1 772.0 L1767.1 771.0 L1767.1 768.8ZM1785.6 738.0 L1788.8 738.0 L1803.9 768.8 L1803.9 771.0 L1802.9 772.0 L1771.5 772.0 L1770.5 771.0 L1770.5 768.8Z"/>
<path d="M1793.2 689.7 L1796.4 689.7 L1811.5 720.5 L1811.5 722.7 L1810.5 723.7 L1779.1 723.7 L1778.1 722.7 L1778.1 720.5ZM1800.8 689.7 L1804.0 689.7 L1819.1 720.5 L1819.1 722.7 L1818.1 723.7 L1786.7 723.7 L1785.7 722.7 L1785.7 720.5Z"/>
<path d="M1797.2 641.8 L1800.4 641.8 L1815.5 672.6 L1815.5 674.8 L1814.5 675.8 L1783.1 675.8 L1782.1 674.8 L1782.1 672.6ZM1804.4 641.8 L1807.6 641.8 L1822.7 672.6 L1822.7 674.8 L1821.7 675.8 L1790.3 675.8 L1789.3 674.8 L1789.3 672.6ZM1808.4 641.8 L1811.6 641.8 L1826.7 672.6 L1826.7 674.8 L1825.7 675.8 L1794.3 675.8 L1793.3 674.8 L1793.3 672.6ZM1811.9 641.8 L1815.1 641.8 L1830.2 672.6 L1830.2 674.8 L1829.2 675.8 L1797.8 675.8 L1796.8 674.8 L1796.8 672.6ZM1818.8 641.8 L1822.0 641.8 L1837.1 672.6 L1837.1 674.8 L1836.1 675.8 L1804.7 675.8 L1803.7 674.8 L1803.7 672.6Z"/>
<path d="M1866.4 546.8 L1869.6 546.8 L1884.7 577.6 L1884.7 579.8 L1883.7 580.8 L1852.3 580.8 L1851.3 579.8 L1851.3 577.6Z"/>
<path d="M1866.3 972.8 L1869.5 972.8 L1884.6 1003.6 L1884.6 1005.8 L1883.6 1006.8 L1852.2 1006.8 L1851.2 1005.8 L1851.2 1003.6ZM1873.4 972.8 L1876.6 972.8 L1891.7 1003.6 L1891.7 1005.8 L1890.7 1006.8 L1859.3 1006.8 L1858.3 1005.8 L1858.3 1003.6ZM1881.4 972.8 L1884.6 972.8 L1899.7 1003.6 L1899.7 1005.8 L1898.7 1006.8 L1867.3 1006.8 L1866.3 1005.8 L1866.3 1003.6ZM1888.7 972.8 L1891.9 972.8 L1907.0 1003.6 L1907.0 1005.8 L1906.0 1006.8 L1874.6 1006.8 L1873.6 1005.8 L1873.6 1003.6Z"/>
</g>
<g fill="#1b98d6">
<path d="M252.7 525.4 L256.5 525.4 L271.3 540.2 L271.3 544.0 L256.5 558.8 L252.7 558.8 L237.9 544.0 L237.9 540.2ZM255.7 525.0 L259.5 525.0 L274.3 539.8 L274.3 543.6 L259.5 558.4 L255.7 558.4 L240.9 543.6 L240.9 539.8ZM259.0 532.0 L262.8 532.0 L277.6 546.8 L277.6 550.6 L262.8 565.4 L259.0 565.4 L244.2 550.6 L244.2 546.8ZM234.3 558.3 L238.1 558.3 L252.9 573.1 L252.9 576.9 L238.1 591.7 L234.3 591.7 L219.5 576.9 L219.5 573.1ZM237.2 558.6 L241.0 558.6 L255.8 573.4 L255.8 577.2 L241.0 592.0 L237.2 592.0 L222.4 577.2 L222.4 573.4ZM248.0 558.1 L251.8 558.1 L266.6 572.9 L266.6 576.7 L251.8 591.5 L248.0 591.5 L233.2 576.7 L233.2 572.9ZM261.9 572.3 L265.7 572.3 L280.5 587.1 L280.5 590.9 L265.7 605.7 L261.9 605.7 L247.1 590.9 L247.1 587.1ZM266.9 588.2 L270.7 588.2 L285.5 603.0 L285.5 606.8 L270.7 621.6 L266.9 621.6 L252.1 606.8 L252.1 603.0ZM226.8 580.5 L230.6 580.5 L245.4 595.3 L245.4 599.1 L230.6 613.9 L226.8 613.9 L212.0 599.1 L212.0 595.3ZM234.3 605.7 L238.1 605.7 L252.9 620.5 L252.9 624.3 L238.1 639.1 L234.3 639.1 L219.5 624.3 L219.5 620.5ZM249.6 591.0 L253.4 591.0 L268.2 605.8 L268.2 609.6 L253.4 624.4 L249.6 624.4 L234.8 609.6 L234.8 605.8ZM226.3 631.7 L230.1 631.7 L244.9 646.5 L244.9 650.3 L230.1 665.1 L226.3 665.1 L211.5 650.3 L211.5 646.5ZM244.6 642.5 L248.4 642.5 L263.2 657.3 L263.2 661.1 L248.4 675.9 L244.6 675.9 L229.8 661.1 L229.8 657.3ZM340.1 551.0 L343.9 551.0 L358.7 565.8 L358.7 569.6 L343.9 584.4 L340.1 584.4 L325.3 569.6 L325.3 565.8ZM362.4 403.2 L366.2 403.2 L381.0 418.0 L381.0 421.8 L366.2 436.6 L362.4 436.6 L347.6 421.8 L347.6 418.0ZM355.7 421.7 L359.5 421.7 L374.3 436.5 L374.3 440.3 L359.5 455.1 L355.7 455.1 L340.9 440.3 L340.9 436.5ZM373.5 462.7 L377.3 462.7 L392.1 477.5 L392.1 481.3 L377.3 496.1 L373.5 496.1 L358.7 481.3 L358.7 477.5ZM391.8 465.6 L395.6 465.6 L410.4 480.4 L410.4 484.2 L395.6 499.0 L391.8 499.0 L377.0 484.2 L377.0 480.4ZM443.0 465.7 L446.8 465.7 L461.6 480.5 L461.6 484.3 L446.8 499.1 L443.0 499.1 L428.2 484.3 L428.2 480.5ZM465.1 474.1 L468.9 474.1 L483.7 488.9 L483.7 492.7 L468.9 507.5 L465.1 507.5 L450.3 492.7 L450.3 488.9ZM480.1 487.3 L483.9 487.3 L498.7 502.1 L498.7 505.9 L483.9 520.7 L480.1 520.7 L465.3 505.9 L465.3 502.1ZM494.6 492.0 L498.4 492.0 L513.2 506.8 L513.2 510.6 L498.4 525.4 L494.6 525.4 L479.8 510.6 L479.8 506.8ZM568.3 547.3 L572.1 547.3 L586.9 562.1 L586.9 565.9 L572.1 580.7 L568.3 580.7 L553.5 565.9 L553.5 562.1ZM571.9 547.3 L575.7 547.3 L590.5 562.1 L590.5 565.9 L575.7 580.7 L571.9 580.7 L557.1 565.9 L557.1 562.1ZM579.0 547.3 L582.8 547.3 L597.6 562.1 L597.6 565.9 L582.8 580.7 L579.0 580.7 L564.2 565.9 L564.2 562.1ZM582.4 547.3 L586.2 547.3 L601.0 562.1 L601.0 565.9 L586.2 580.7 L582.4 580.7 L567.6 565.9 L567.6 562.1ZM550.0 568.3 L553.8 568.3 L568.6 583.1 L568.6 586.9 L553.8 601.7 L550.0 601.7 L535.2 586.9 L535.2 583.1ZM555.1 573.9 L558.9 573.9 L573.7 588.7 L573.7 592.5 L558.9 607.3 L555.1 607.3 L540.3 592.5 L540.3 588.7ZM560.4 579.5 L564.2 579.5 L579.0 594.3 L579.0 598.1 L564.2 612.9 L560.4 612.9 L545.6 598.1 L545.6 594.3ZM568.2 579.5 L572.0 579.5 L586.8 594.3 L586.8 598.1 L572.0 612.9 L568.2 612.9 L553.4 598.1 L553.4 594.3ZM575.3 581.1 L579.1 581.1 L593.9 595.9 L593.9 599.7 L579.1 614.5 L575.3 614.5 L560.5 599.7 L560.5 595.9ZM579.5 581.1 L583.3 581.1 L598.1 595.9 L598.1 599.7 L583.3 614.5 L579.5 614.5 L564.7 599.7 L564.7 595.9ZM582.5 591.2 L586.3 591.2 L601.1 606.0 L601.1 609.8 L586.3 624.6 L582.5 624.6 L567.7 609.8 L567.7 606.0ZM587.4 591.2 L591.2 591.2 L606.0 606.0 L606.0 609.8 L591.2 624.6 L587.4 624.6 L572.6 609.8 L572.6 606.0ZM594.6 591.2 L598.4 591.2 L613.2 606.0 L613.2 609.8 L598.4 624.6 L594.6 624.6 L579.8 609.8 L579.8 606.0ZM605.1 591.2 L608.9 591.2 L623.7 606.0 L623.7 609.8 L608.9 624.6 L605.1 624.6 L590.3 609.8 L590.3 606.0ZM667.3 620.4 L671.1 620.4 L685.9 635.2 L685.9 639.0 L671.1 653.8 L667.3 653.8 L652.5 639.0 L652.5 635.2ZM696.8 620.3 L700.6 620.3 L715.4 635.1 L715.4 638.9 L700.6 653.7 L696.8 653.7 L682.0 638.9 L682.0 635.1ZM674.7 650.1 L678.5 650.1 L693.3 664.9 L693.3 668.7 L678.5 683.5 L674.7 683.5 L659.9 668.7 L659.9 664.9ZM687.6 650.1 L691.4 650.1 L706.2 664.9 L706.2 668.7 L691.4 683.5 L687.6 683.5 L672.8 668.7 L672.8 664.9ZM691.8 650.1 L695.6 650.1 L710.4 664.9 L710.4 668.7 L695.6 683.5 L691.8 683.5 L677.0 668.7 L677.0 664.9ZM695.1 650.1 L698.9 650.1 L713.7 664.9 L713.7 668.7 L698.9 683.5 L695.1 683.5 L680.3 668.7 L680.3 664.9ZM700.3 650.1 L704.1 650.1 L718.9 664.9 L718.9 668.7 L704.1 683.5 L700.3 683.5 L685.5 668.7 L685.5 664.9ZM708.0 679.4 L711.8 679.4 L726.6 694.2 L726.6 698.0 L711.8 712.8 L708.0 712.8 L693.2 698.0 L693.2 694.2ZM711.9 679.4 L715.7 679.4 L730.5 694.2 L730.5 698.0 L715.7 712.8 L711.9 712.8 L697.1 698.0 L697.1 694.2ZM766.7 708.5 L770.5 708.5 L785.3 723.3 L785.3 727.1 L770.5 741.9 L766.7 741.9 L751.9 727.1 L751.9 723.3ZM758.8 738.3 L762.6 738.3 L777.4 753.1 L777.4 756.9 L762.6 771.7 L758.8 771.7 L744.0 756.9 L744.0 753.1ZM762.4 738.3 L766.2 738.3 L781.0 753.1 L781.0 756.9 L766.2 771.7 L762.4 771.7 L747.6 756.9 L747.6 753.1ZM783.3 738.0 L787.1 738.0 L801.9 752.8 L801.9 756.6 L787.1 771.4 L783.3 771.4 L768.5 756.6 L768.5 752.8ZM799.6 738.0 L803.4 738.0 L818.2 752.8 L818.2 756.6 L803.4 771.4 L799.6 771.4 L784.8 756.6 L784.8 752.8ZM803.4 749.4 L807.2 749.4 L822.0 764.2 L822.0 768.0 L807.2 782.8 L803.4 782.8 L788.6 768.0 L788.6 764.2ZM770.8 767.8 L774.6 767.8 L789.4 782.6 L789.4 786.4 L774.6 801.2 L770.8 801.2 L756.0 786.4 L756.0 782.6ZM778.1 767.8 L781.9 767.8 L796.7 782.6 L796.7 786.4 L781.9 801.2 L778.1 801.2 L763.3 786.4 L763.3 782.6ZM791.6 767.8 L795.4 767.8 L810.2 782.6 L810.2 786.4 L795.4 801.2 L791.6 801.2 L776.8 786.4 L776.8 782.6ZM810.9 778.4 L814.7 778.4 L829.5 793.2 L829.5 797.0 L814.7 811.8 L810.9 811.8 L796.1 797.0 L796.1 793.2ZM814.5 778.4 L818.3 778.4 L833.1 793.2 L833.1 797.0 L818.3 811.8 L814.5 811.8 L799.7 797.0 L799.7 793.2ZM807.6 808.1 L811.4 808.1 L826.2 822.9 L826.2 826.7 L811.4 841.5 L807.6 841.5 L792.8 826.7 L792.8 822.9ZM873.0 833.7 L876.8 833.7 L891.6 848.5 L891.6 852.3 L876.8 867.1 L873.0 867.1 L858.2 852.3 L858.2 848.5ZM862.6 863.6 L866.4 863.6 L881.2 878.4 L881.2 882.2 L866.4 897.0 L862.6 897.0 L847.8 882.2 L847.8 878.4ZM882.6 863.6 L886.4 863.6 L901.2 878.4 L901.2 882.2 L886.4 897.0 L882.6 897.0 L867.8 882.2 L867.8 878.4ZM892.2 855.8 L896.0 855.8 L910.8 870.6 L910.8 874.4 L896.0 889.2 L892.2 889.2 L877.4 874.4 L877.4 870.6ZM899.0 855.8 L902.8 855.8 L917.6 870.6 L917.6 874.4 L902.8 889.2 L899.0 889.2 L884.2 874.4 L884.2 870.6ZM910.7 885.1 L914.5 885.1 L929.3 899.9 L929.3 903.7 L914.5 918.5 L910.7 918.5 L895.9 903.7 L895.9 899.9ZM921.4 885.1 L925.2 885.1 L940.0 899.9 L940.0 903.7 L925.2 918.5 L921.4 918.5 L906.6 903.7 L906.6 899.9ZM969.7 1006.2 L973.5 1006.2 L988.3 1021.0 L988.3 1024.8 L973.5 1039.6 L969.7 1039.6 L954.9 1024.8 L954.9 1021.0ZM976.5 1006.2 L980.3 1006.2 L995.1 1021.0 L995.1 1024.8 L980.3 1039.6 L976.5 1039.6 L961.7 1024.8 L961.7 1021.0ZM980.8 1036.2 L984.6 1036.2 L999.4 1051.0 L999.4 1054.8 L984.6 1069.6 L980.8 1069.6 L966.0 1054.8 L966.0 1051.0ZM987.3 1036.2 L991.1 1036.2 L1005.9 1051.0 L1005.9 1054.8 L991.1 1069.6 L987.3 1069.6 L972.5 1054.8 L972.5 1051.0ZM986.9 1080.3 L990.7 1080.3 L1005.5 1095.1 L1005.5 1098.9 L990.7 1113.7 L986.9 1113.7 L972.1 1098.9 L972.1 1095.1ZM990.6 1080.3 L994.4 1080.3 L1009.2 1095.1 L1009.2 1098.9 L994.4 1113.7 L990.6 1113.7 L975.8 1098.9 L975.8 1095.1ZM1001.5 1080.3 L1005.3 1080.3 L1020.1 1095.1 L1020.1 1098.9 L1005.3 1113.7 L1001.5 1113.7 L986.7 1098.9 L986.7 1095.1ZM1072.1 1105.3 L1075.9 1105.3 L1090.7 1120.1 L1090.7 1123.9 L1075.9 1138.7 L1072.1 1138.7 L1057.3 1123.9 L1057.3 1120.1ZM1093.6 1160.8 L1097.4 1160.8 L1112.2 1175.6 L1112.2 1179.4 L1097.4 1194.2 L1093.6 1194.2 L1078.8 1179.4 L1078.8 1175.6ZM1094.4 664.5 L1098.2 664.5 L1113.0 679.3 L1113.0 683.1 L1098.2 697.9 L1094.4 697.9 L1079.6 683.1 L1079.6 679.3ZM1097.3 664.5 L1101.1 664.5 L1115.9 679.3 L1115.9 683.1 L1101.1 697.9 L1097.3 697.9 L1082.5 683.1 L1082.5 679.3ZM1127.3 690.7 L1131.1 690.7 L1145.9 705.5 L1145.9 709.3 L1131.1 724.1 L1127.3 724.1 L1112.5 709.3 L1112.5 705.5ZM1101.6 719.9 L1105.4 719.9 L1120.2 734.7 L1120.2 738.5 L1105.4 753.3 L1101.6 753.3 L1086.8 738.5 L1086.8 734.7ZM1116.9 719.8 L1120.7 719.8 L1135.5 734.6 L1135.5 738.4 L1120.7 753.2 L1116.9 753.2 L1102.1 738.4 L1102.1 734.6ZM1119.3 719.8 L1123.1 719.8 L1137.9 734.6 L1137.9 738.4 L1123.1 753.2 L1119.3 753.2 L1104.5 738.4 L1104.5 734.6ZM1122.5 719.8 L1126.3 719.8 L1141.1 734.6 L1141.1 738.4 L1126.3 753.2 L1122.5 753.2 L1107.7 738.4 L1107.7 734.6ZM1125.7 719.8 L1129.5 719.8 L1144.3 734.6 L1144.3 738.4 L1129.5 753.2 L1125.7 753.2 L1110.9 738.4 L1110.9 734.6ZM1128.9 719.8 L1132.7 719.8 L1147.5 734.6 L1147.5 738.4 L1132.7 753.2 L1128.9 753.2 L1114.1 738.4 L1114.1 734.6ZM1132.1 719.8 L1135.9 719.8 L1150.7 734.6 L1150.7 738.4 L1135.9 753.2 L1132.1 753.2 L1117.3 738.4 L1117.3 734.6ZM1135.3 719.8 L1139.1 719.8 L1153.9 734.6 L1153.9 738.4 L1139.1 753.2 L1135.3 753.2 L1120.5 738.4 L1120.5 734.6ZM1138.9 719.8 L1142.7 719.8 L1157.5 734.6 L1157.5 738.4 L1142.7 753.2 L1138.9 753.2 L1124.1 738.4 L1124.1 734.6ZM1142.4 719.9 L1146.2 719.9 L1161.0 734.7 L1161.0 738.5 L1146.2 753.3 L1142.4 753.3 L1127.6 738.5 L1127.6 734.7ZM1105.4 745.2 L1109.2 745.2 L1124.0 760.0 L1124.0 763.8 L1109.2 778.6 L1105.4 778.6 L1090.6 763.8 L1090.6 760.0ZM1109.0 745.2 L1112.8 745.2 L1127.6 760.0 L1127.6 763.8 L1112.8 778.6 L1109.0 778.6 L1094.2 763.8 L1094.2 760.0ZM1145.0 745.2 L1148.8 745.2 L1163.6 760.0 L1163.6 763.8 L1148.8 778.6 L1145.0 778.6 L1130.2 763.8 L1130.2 760.0ZM1211.6 719.5 L1215.4 719.5 L1230.2 734.3 L1230.2 738.1 L1215.4 752.9 L1211.6 752.9 L1196.8 738.1 L1196.8 734.3ZM1196.7 745.3 L1200.5 745.3 L1215.3 760.1 L1215.3 763.9 L1200.5 778.7 L1196.7 778.7 L1181.9 763.9 L1181.9 760.1ZM1200.8 745.3 L1204.6 745.3 L1219.4 760.1 L1219.4 763.9 L1204.6 778.7 L1200.8 778.7 L1186.0 763.9 L1186.0 760.1ZM1219.5 745.3 L1223.3 745.3 L1238.1 760.1 L1238.1 763.9 L1223.3 778.7 L1219.5 778.7 L1204.7 763.9 L1204.7 760.1ZM1207.9 774.9 L1211.7 774.9 L1226.5 789.7 L1226.5 793.5 L1211.7 808.3 L1207.9 808.3 L1193.1 793.5 L1193.1 789.7ZM1215.3 774.7 L1219.1 774.7 L1233.9 789.5 L1233.9 793.3 L1219.1 808.1 L1215.3 808.1 L1200.5 793.3 L1200.5 789.5ZM1234.1 774.9 L1237.9 774.9 L1252.7 789.7 L1252.7 793.5 L1237.9 808.3 L1234.1 808.3 L1219.3 793.5 L1219.3 789.7ZM1240.9 774.9 L1244.7 774.9 L1259.5 789.7 L1259.5 793.5 L1244.7 808.3 L1240.9 808.3 L1226.1 793.5 L1226.1 789.7ZM1248.8 774.9 L1252.6 774.9 L1267.4 789.7 L1267.4 793.5 L1252.6 808.3 L1248.8 808.3 L1234.0 793.5 L1234.0 789.7ZM1222.7 800.7 L1226.5 800.7 L1241.3 815.5 L1241.3 819.3 L1226.5 834.1 L1222.7 834.1 L1207.9 819.3 L1207.9 815.5ZM1244.4 800.7 L1248.2 800.7 L1263.0 815.5 L1263.0 819.3 L1248.2 834.1 L1244.4 834.1 L1229.6 819.3 L1229.6 815.5ZM1307.9 830.0 L1311.7 830.0 L1326.5 844.8 L1326.5 848.6 L1311.7 863.4 L1307.9 863.4 L1293.1 848.6 L1293.1 844.8ZM1310.8 855.7 L1314.6 855.7 L1329.4 870.5 L1329.4 874.3 L1314.6 889.1 L1310.8 889.1 L1296.0 874.3 L1296.0 870.5ZM1314.2 885.2 L1318.0 885.2 L1332.8 900.0 L1332.8 903.8 L1318.0 918.6 L1314.2 918.6 L1299.4 903.8 L1299.4 900.0ZM1321.0 885.2 L1324.8 885.2 L1339.6 900.0 L1339.6 903.8 L1324.8 918.6 L1321.0 918.6 L1306.2 903.8 L1306.2 900.0ZM1331.6 885.2 L1335.4 885.2 L1350.2 900.0 L1350.2 903.8 L1335.4 918.6 L1331.6 918.6 L1316.8 903.8 L1316.8 900.0ZM1354.3 885.2 L1358.1 885.2 L1372.9 900.0 L1372.9 903.8 L1358.1 918.6 L1354.3 918.6 L1339.5 903.8 L1339.5 900.0ZM1362.3 885.2 L1366.1 885.2 L1380.9 900.0 L1380.9 903.8 L1366.1 918.6 L1362.3 918.6 L1347.5 903.8 L1347.5 900.0ZM1336.6 910.3 L1340.4 910.3 L1355.2 925.1 L1355.2 928.9 L1340.4 943.7 L1336.6 943.7 L1321.8 928.9 L1321.8 925.1ZM1349.0 910.3 L1352.8 910.3 L1367.6 925.1 L1367.6 928.9 L1352.8 943.7 L1349.0 943.7 L1334.2 928.9 L1334.2 925.1ZM1359.3 910.3 L1363.1 910.3 L1377.9 925.1 L1377.9 928.9 L1363.1 943.7 L1359.3 943.7 L1344.5 928.9 L1344.5 925.1ZM1421.4 910.9 L1425.2 910.9 L1440.0 925.7 L1440.0 929.5 L1425.2 944.3 L1421.4 944.3 L1406.6 929.5 L1406.6 925.7ZM1443.6 925.3 L1447.4 925.3 L1462.2 940.1 L1462.2 943.9 L1447.4 958.7 L1443.6 958.7 L1428.8 943.9 L1428.8 940.1ZM1417.1 940.7 L1420.9 940.7 L1435.7 955.5 L1435.7 959.3 L1420.9 974.1 L1417.1 974.1 L1402.3 959.3 L1402.3 955.5ZM1426.6 934.3 L1430.4 934.3 L1445.2 949.1 L1445.2 952.9 L1430.4 967.7 L1426.6 967.7 L1411.8 952.9 L1411.8 949.1ZM1444.1 944.3 L1447.9 944.3 L1462.7 959.1 L1462.7 962.9 L1447.9 977.7 L1444.1 977.7 L1429.3 962.9 L1429.3 959.1ZM1432.5 955.3 L1436.3 955.3 L1451.1 970.1 L1451.1 973.9 L1436.3 988.7 L1432.5 988.7 L1417.7 973.9 L1417.7 970.1ZM1450.4 955.1 L1454.2 955.1 L1469.0 969.9 L1469.0 973.7 L1454.2 988.5 L1450.4 988.5 L1435.6 973.7 L1435.6 969.9ZM1458.1 955.1 L1461.9 955.1 L1476.7 969.9 L1476.7 973.7 L1461.9 988.5 L1458.1 988.5 L1443.3 973.7 L1443.3 969.9ZM1464.1 955.1 L1467.9 955.1 L1482.7 969.9 L1482.7 973.7 L1467.9 988.5 L1464.1 988.5 L1449.3 973.7 L1449.3 969.9ZM1471.5 955.1 L1475.3 955.1 L1490.1 969.9 L1490.1 973.7 L1475.3 988.5 L1471.5 988.5 L1456.7 973.7 L1456.7 969.9ZM1480.4 951.3 L1484.2 951.3 L1499.0 966.1 L1499.0 969.9 L1484.2 984.7 L1480.4 984.7 L1465.6 969.9 L1465.6 966.1ZM1484.0 984.3 L1487.8 984.3 L1502.6 999.1 L1502.6 1002.9 L1487.8 1017.7 L1484.0 1017.7 L1469.2 1002.9 L1469.2 999.1ZM1489.7 984.3 L1493.5 984.3 L1508.3 999.1 L1508.3 1002.9 L1493.5 1017.7 L1489.7 1017.7 L1474.9 1002.9 L1474.9 999.1ZM1496.5 984.3 L1500.3 984.3 L1515.1 999.1 L1515.1 1002.9 L1500.3 1017.7 L1496.5 1017.7 L1481.7 1002.9 L1481.7 999.1ZM1512.4 984.3 L1516.2 984.3 L1531.0 999.1 L1531.0 1002.9 L1516.2 1017.7 L1512.4 1017.7 L1497.6 1002.9 L1497.6 999.1ZM1517.4 984.3 L1521.2 984.3 L1536.0 999.1 L1536.0 1002.9 L1521.2 1017.7 L1517.4 1017.7 L1502.6 1002.9 L1502.6 999.1ZM1472.8 1006.2 L1476.6 1006.2 L1491.4 1021.0 L1491.4 1024.8 L1476.6 1039.6 L1472.8 1039.6 L1458.0 1024.8 L1458.0 1021.0ZM1476.6 1006.2 L1480.4 1006.2 L1495.2 1021.0 L1495.2 1024.8 L1480.4 1039.6 L1476.6 1039.6 L1461.8 1024.8 L1461.8 1021.0ZM1499.5 1006.2 L1503.3 1006.2 L1518.1 1021.0 L1518.1 1024.8 L1503.3 1039.6 L1499.5 1039.6 L1484.7 1024.8 L1484.7 1021.0ZM1504.1 1032.4 L1507.9 1032.4 L1522.7 1047.2 L1522.7 1051.0 L1507.9 1065.8 L1504.1 1065.8 L1489.3 1051.0 L1489.3 1047.2ZM1568.7 1079.8 L1572.5 1079.8 L1587.3 1094.6 L1587.3 1098.4 L1572.5 1113.2 L1568.7 1113.2 L1553.9 1098.4 L1553.9 1094.6ZM1576.8 756.6 L1580.6 756.6 L1595.4 771.4 L1595.4 775.2 L1580.6 790.0 L1576.8 790.0 L1562.0 775.2 L1562.0 771.4ZM1586.6 756.6 L1590.4 756.6 L1605.2 771.4 L1605.2 775.2 L1590.4 790.0 L1586.6 790.0 L1571.8 775.2 L1571.8 771.4ZM1590.8 786.4 L1594.6 786.4 L1609.4 801.2 L1609.4 805.0 L1594.6 819.8 L1590.8 819.8 L1576.0 805.0 L1576.0 801.2ZM1594.5 786.4 L1598.3 786.4 L1613.1 801.2 L1613.1 805.0 L1598.3 819.8 L1594.5 819.8 L1579.7 805.0 L1579.7 801.2ZM1597.6 812.1 L1601.4 812.1 L1616.2 826.9 L1616.2 830.7 L1601.4 845.5 L1597.6 845.5 L1582.8 830.7 L1582.8 826.9ZM1603.6 812.1 L1607.4 812.1 L1622.2 826.9 L1622.2 830.7 L1607.4 845.5 L1603.6 845.5 L1588.8 830.7 L1588.8 826.9ZM1609.6 812.1 L1613.4 812.1 L1628.2 826.9 L1628.2 830.7 L1613.4 845.5 L1609.6 845.5 L1594.8 830.7 L1594.8 826.9ZM1660.6 812.1 L1664.4 812.1 L1679.2 826.9 L1679.2 830.7 L1664.4 845.5 L1660.6 845.5 L1645.8 830.7 L1645.8 826.9ZM1664.1 812.1 L1667.9 812.1 L1682.7 826.9 L1682.7 830.7 L1667.9 845.5 L1664.1 845.5 L1649.3 830.7 L1649.3 826.9ZM1656.6 841.6 L1660.4 841.6 L1675.2 856.4 L1675.2 860.2 L1660.4 875.0 L1656.6 875.0 L1641.8 860.2 L1641.8 856.4ZM1667.5 841.6 L1671.3 841.6 L1686.1 856.4 L1686.1 860.2 L1671.3 875.0 L1667.5 875.0 L1652.7 860.2 L1652.7 856.4ZM1675.1 841.6 L1678.9 841.6 L1693.7 856.4 L1693.7 860.2 L1678.9 875.0 L1675.1 875.0 L1660.3 860.2 L1660.3 856.4ZM1681.1 841.6 L1684.9 841.6 L1699.7 856.4 L1699.7 860.2 L1684.9 875.0 L1681.1 875.0 L1666.3 860.2 L1666.3 856.4ZM1693.2 841.6 L1697.0 841.6 L1711.8 856.4 L1711.8 860.2 L1697.0 875.0 L1693.2 875.0 L1678.4 860.2 L1678.4 856.4ZM1701.5 841.6 L1705.3 841.6 L1720.1 856.4 L1720.1 860.2 L1705.3 875.0 L1701.5 875.0 L1686.7 860.2 L1686.7 856.4ZM1706.6 841.6 L1710.4 841.6 L1725.2 856.4 L1725.2 860.2 L1710.4 875.0 L1706.6 875.0 L1691.8 860.2 L1691.8 856.4ZM1711.4 841.6 L1715.2 841.6 L1730.0 856.4 L1730.0 860.2 L1715.2 875.0 L1711.4 875.0 L1696.6 860.2 L1696.6 856.4ZM1686.7 870.8 L1690.5 870.8 L1705.3 885.6 L1705.3 889.4 L1690.5 904.2 L1686.7 904.2 L1671.9 889.4 L1671.9 885.6ZM1689.4 870.8 L1693.2 870.8 L1708.0 885.6 L1708.0 889.4 L1693.2 904.2 L1689.4 904.2 L1674.6 889.4 L1674.6 885.6ZM1759.8 955.2 L1763.6 955.2 L1778.4 970.0 L1778.4 973.8 L1763.6 988.6 L1759.8 988.6 L1745.0 973.8 L1745.0 970.0ZM1771.1 955.2 L1774.9 955.2 L1789.7 970.0 L1789.7 973.8 L1774.9 988.6 L1771.1 988.6 L1756.3 973.8 L1756.3 970.0ZM1778.4 955.2 L1782.2 955.2 L1797.0 970.0 L1797.0 973.8 L1782.2 988.6 L1778.4 988.6 L1763.6 973.8 L1763.6 970.0ZM1782.1 984.6 L1785.9 984.6 L1800.7 999.4 L1800.7 1003.2 L1785.9 1018.0 L1782.1 1018.0 L1767.3 1003.2 L1767.3 999.4ZM1785.3 984.6 L1789.1 984.6 L1803.9 999.4 L1803.9 1003.2 L1789.1 1018.0 L1785.3 1018.0 L1770.5 1003.2 L1770.5 999.4ZM1792.8 1014.4 L1796.6 1014.4 L1811.4 1029.2 L1811.4 1033.0 L1796.6 1047.8 L1792.8 1047.8 L1778.0 1033.0 L1778.0 1029.2ZM1800.6 1014.4 L1804.4 1014.4 L1819.2 1029.2 L1819.2 1033.0 L1804.4 1047.8 L1800.6 1047.8 L1785.8 1033.0 L1785.8 1029.2ZM1796.8 1040.1 L1800.6 1040.1 L1815.4 1054.9 L1815.4 1058.7 L1800.6 1073.5 L1796.8 1073.5 L1782.0 1058.7 L1782.0 1054.9ZM1807.4 1040.1 L1811.2 1040.1 L1826.0 1054.9 L1826.0 1058.7 L1811.2 1073.5 L1807.4 1073.5 L1792.6 1058.7 L1792.6 1054.9ZM1818.5 1040.1 L1822.3 1040.1 L1837.1 1054.9 L1837.1 1058.7 L1822.3 1073.5 L1818.5 1073.5 L1803.7 1058.7 L1803.7 1054.9ZM1866.3 1098.5 L1870.1 1098.5 L1884.9 1113.3 L1884.9 1117.1 L1870.1 1131.9 L1866.3 1131.9 L1851.5 1117.1 L1851.5 1113.3ZM1866.7 841.2 L1870.5 841.2 L1885.3 856.0 L1885.3 859.8 L1870.5 874.6 L1866.7 874.6 L1851.9 859.8 L1851.9 856.0ZM1872.1 841.2 L1875.9 841.2 L1890.7 856.0 L1890.7 859.8 L1875.9 874.6 L1872.1 874.6 L1857.3 859.8 L1857.3 856.0ZM1881.1 841.2 L1884.9 841.2 L1899.7 856.0 L1899.7 859.8 L1884.9 874.6 L1881.1 874.6 L1866.3 859.8 L1866.3 856.0ZM1888.5 841.2 L1892.3 841.2 L1907.1 856.0 L1907.1 859.8 L1892.3 874.6 L1888.5 874.6 L1873.7 859.8 L1873.7 856.0Z"/>
</g>
<g fill="#ff0000">
<path d="M917.3 139.0 L925.1 139.0 L929.7 1431.5 L921.9 1431.5Z"/>
<path d="M1009.1 793.0 L1017.1 793.0 L1017.9 1219.0 L1009.9 1219.0Z"/>
<path d="M1098.0 790.0 L1106.0 790.0 L1106.0 1216.0 L1098.0 1216.0Z"/>
<path d="M1568.0 786.0 L1576.0 786.0 L1576.1 1212.0 L1568.1 1212.0Z"/>
<path d="M1862.1 797.0 L1870.7 797.0 L1872.9 1209.0 L1864.3 1209.0Z"/>
<rect x="917.3" y="139" width="356" height="7.9"/>
<path d="M1271.4 130.8 L1294.8 142.5 L1271.4 154.2Z"/>
</g>
<g fill="#000">
<path d="M1246.9 1256.1 L1145.7 1191.5 L1150.6 1183.9 L1125.0 1181.2 L1138.2 1203.3 L1143.0 1195.7 L1244.3 1260.3Z"/>
<path d="M1215.2 1313.7 L1070.6 1257.8 L1073.8 1249.4 L1048.2 1251.8 L1065.5 1270.8 L1068.8 1262.4 L1213.4 1318.3Z"/>
<path d="M1436.5 1271.8 L1533.1 1180.1 L1539.3 1186.6 L1548.1 1162.4 L1523.5 1169.9 L1529.7 1176.4 L1433.1 1268.2Z"/>
<path d="M1600.9 1314.4 L1817.3 1187.3 L1821.9 1195.1 L1835.9 1173.5 L1810.2 1175.2 L1814.8 1183.0 L1598.3 1310.0Z"/>
</g>
<path fill="#42ad3b" d="M1454.9 117.0 L1458.1 117.0 L1473.2 147.8 L1473.2 150.0 L1472.2 151.0 L1440.8 151.0 L1439.8 150.0 L1439.8 147.8Z"/>
<path fill="#1b98d6" d="M1454.6 329.9 L1458.4 329.9 L1473.2 344.7 L1473.2 348.5 L1458.4 363.3 L1454.6 363.3 L1439.8 348.5 L1439.8 344.7Z"/>
<g fill="#000" stroke="#000" stroke-width="0.6" font-size="51.4">
<text x="183.4" y="58.6" text-anchor="end">100</text>
<text x="183.4" y="337.9" text-anchor="end">80</text>
<text x="183.4" y="614.1" text-anchor="end">60</text>
<text x="183.4" y="888.8" text-anchor="end">40</text>
<text x="183.4" y="1168.7" text-anchor="end">20</text>
<text x="183.4" y="1444.6" text-anchor="end">0</text>
<text x="2234.4" y="58.6">0.04</text>
<text x="2234.4" y="407.8">0.03</text>
<text x="2234.4" y="753.8">0.02</text>
<text x="2234.4" y="1099.0">0.01</text>
<text x="2234.4" y="1444.6">0</text>
<text x="226.2" y="1506.9" text-anchor="middle">0</text>
<text x="445.1" y="1506.9" text-anchor="middle">50</text>
<text x="664.1" y="1506.9" text-anchor="middle">100</text>
<text x="881.8" y="1506.9" text-anchor="middle">150</text>
<text x="1100.2" y="1506.9" text-anchor="middle">200</text>
<text x="1318.4" y="1506.9" text-anchor="middle">250</text>
<text x="1536.4" y="1506.9" text-anchor="middle">300</text>
<text x="1754.5" y="1506.9" text-anchor="middle">350</text>
<text x="1972.1" y="1506.9" text-anchor="middle">400</text>
<text x="2190.5" y="1506.9" text-anchor="middle">450</text>
<text x="1484.7" y="149.2">Phase 1 Water permeability</text>
<text x="1484.7" y="207.6">decline rate</text>
<text x="1484.7" y="363.6">Phase 1 Normalized water</text>
<text x="1484.7" y="421.4">permeability</text>
</g>
<g fill="#000" stroke="#000" stroke-width="0.6" font-size="58.7">
<text x="988.6" y="1587.6">Operating time (h)</text>
<text transform="translate(71,1127) rotate(-90)">Water permeability decline rate (%)</text>
<text transform="translate(2442,1310) rotate(-90)">Normalized water permeability (Lmh/kPa)</text>
</g>
<g fill="#ff0000" stroke="#ff0000" stroke-width="0.4" font-size="44.0">
<text x="908.5" y="120.8">Install HydroFLOW units</text>
<text x="1252.5" y="1344.9">Hydraulic flush</text>
</g>
</svg></body></html>
